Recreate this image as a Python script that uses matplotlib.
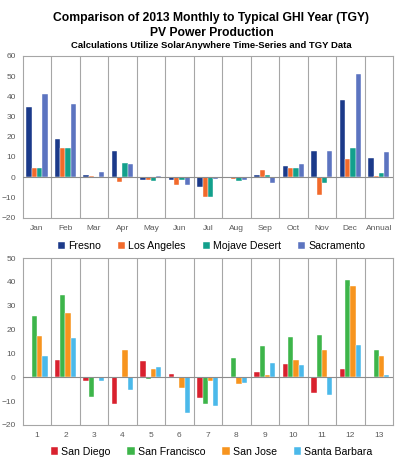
import matplotlib

matplotlib.use("Agg")
import matplotlib.pyplot as plt
import numpy as np

plt.rcParams["font.family"] = ["Liberation Sans", "DejaVu Sans"]

# top panel: percent difference 2013 vs TGY
months = ["Jan", "Feb", "Mar", "Apr", "May", "Jun", "Jul", "Aug", "Sep", "Oct", "Nov", "Dec", "Annual"]
fresno = [34.6, 19.1, 1.2, 12.9, -1.3, -1.3, -5.0, 0.0, 1.2, 5.6, 13.2, 38.4, 9.7]
los_angeles = [4.5, 14.5, 0.8, -2.5, -1.5, -3.8, -9.6, -0.8, 3.5, 4.3, -8.6, 9.1, 0.7]
mojave = [4.5, 14.5, 0.0, 6.9, -2.0, -1.3, -9.6, -1.8, 1.2, 4.6, -3.0, 14.5, 2.3]
sacramento = [41.4, 36.3, 2.6, 6.4, 0.8, -3.8, -1.0, -1.2, -2.8, 6.4, 13.2, 51.3, 12.4]

# bottom panel
periods = [str(i) for i in range(1, 14)]
san_diego = [-0.5, 7.3, -1.5, -11.3, 6.9, 1.3, -8.7, -0.4, 2.2, 5.7, -6.6, 3.5, -0.4]
san_francisco = [25.8, 34.6, -8.1, -0.3, -0.6, 0.0, -11.2, 8.1, 13.2, 17.0, 17.7, 40.6, 11.3]
san_jose = [17.3, 26.8, 0.0, 11.4, 3.5, -4.6, -1.8, -2.7, 0.8, 7.3, 11.6, 38.3, 9.1]
santa_barbara = [8.8, 16.5, -1.8, -5.3, 4.3, -15.0, -11.9, -2.3, 6.1, 5.3, -7.3, 13.7, 1.0]

top_series = [("Fresno", fresno, "#1B3A8A"), ("Los Angeles", los_angeles, "#F26A2B"),
              ("Mojave Desert", mojave, "#12A08C"), ("Sacramento", sacramento, "#5C74C0")]
bot_series = [("San Diego", san_diego, "#D9212E"), ("San Francisco", san_francisco, "#3DB54A"),
              ("San Jose", san_jose, "#F7941E"), ("Santa Barbara", santa_barbara, "#4BB9EA")]

GRID = "#A6A6A6"
TICK = "#595959"


def draw_panel(ax, labels, series, ylim, step):
    x = np.arange(len(labels))
    width = 0.185
    for i, (name, vals, color) in enumerate(series):
        ax.bar(x + (i - 1.5) * width, vals, width, label=name, color=color,
               edgecolor="white", linewidth=0.3, zorder=3)
    ax.set_xlim(-0.5, len(labels) - 0.5)
    ax.set_ylim(*ylim)
    ax.set_yticks(np.arange(ylim[0], ylim[1] + 1, step))
    ax.set_xticks(x)
    ax.set_xticklabels(labels)
    for b in np.arange(0.5, len(labels) - 0.5, 1):
        ax.axvline(b, color=GRID, linewidth=0.8, zorder=1)
    ax.axhline(0, color="#8C8C8C", linewidth=0.8, zorder=4)
    for s in ax.spines.values():
        s.set_color(GRID)
        s.set_linewidth(0.8)
    ax.tick_params(length=0, labelsize=6, labelcolor=TICK, pad=5)


leg_kw = dict(loc="upper center", ncol=4, frameon=False, fontsize=7.6,
              handlelength=0.7, handleheight=0.7, handletextpad=0.3,
              columnspacing=1.6, borderaxespad=0)

fig = plt.figure(figsize=(3.99, 4.70), dpi=100)

ax1 = fig.add_axes([0.057, 0.537, 0.928, 0.344])
draw_panel(ax1, months, top_series, (-20, 60), 10)
ax1.legend(bbox_to_anchor=(0.51, -0.12), **leg_kw)

ax2 = fig.add_axes([0.057, 0.096, 0.928, 0.355])
draw_panel(ax2, periods, bot_series, (-20, 50), 10)
ax2.legend(bbox_to_anchor=(0.51, -0.105), **leg_kw)

fig.text(0.53, 0.962, "Comparison of 2013 Monthly to Typical GHI Year (TGY)",
         ha="center", va="center", fontsize=8.7, fontweight="bold")
fig.text(0.53, 0.929, "PV Power Production", ha="center", va="center",
         fontsize=8.7, fontweight="bold")
fig.text(0.53, 0.903, "Calculations Utilize SolarAnywhere Time-Series and TGY Data",
         ha="center", va="center", fontsize=6.8, fontweight="bold")

fig.savefig("out.png", dpi=100)
